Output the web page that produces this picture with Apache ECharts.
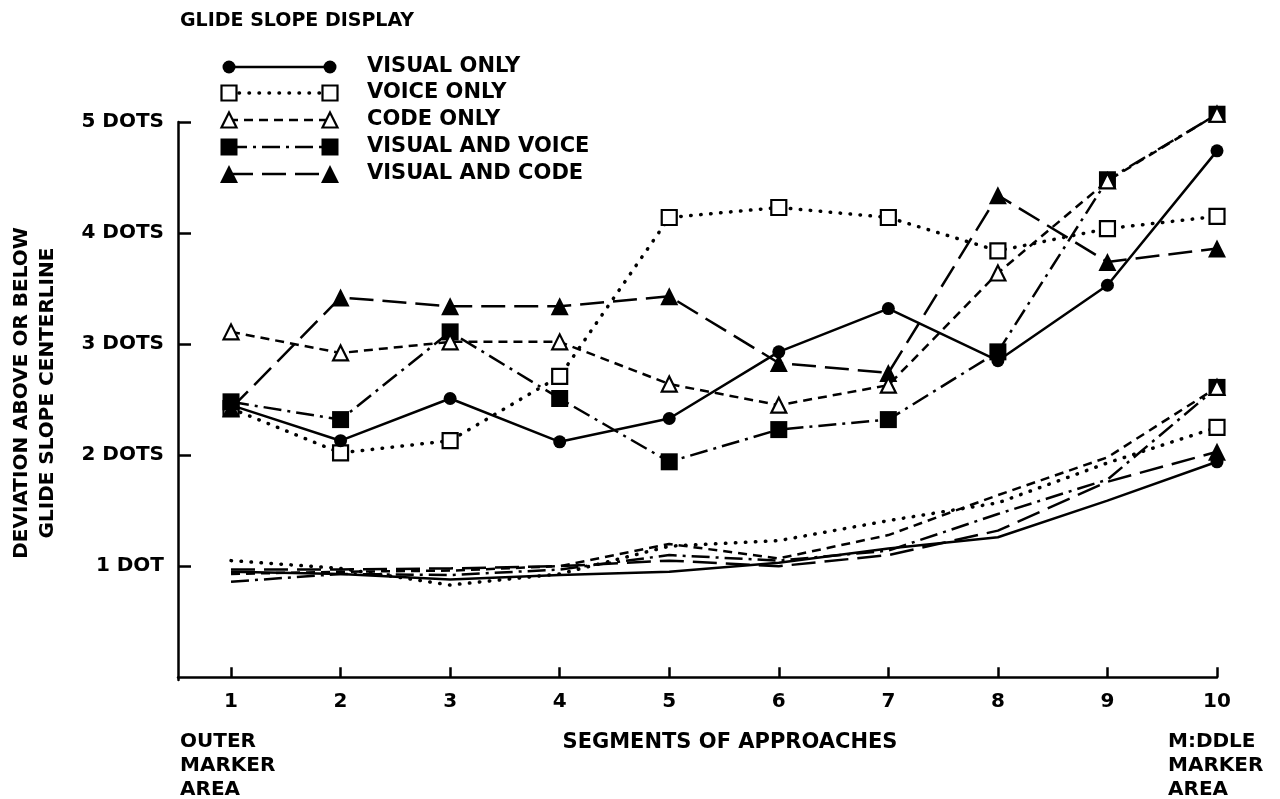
<!DOCTYPE html>
<html>
<head>
<meta charset="utf-8">
<script src="https://cdn.jsdelivr.net/npm/echarts@6/dist/echarts.min.js"></script>
<style>
  html, body { margin: 0; background: #fff; }
  #chart { width: 1280px; height: 799px; }
</style>
</head>
<body>
<div id="chart"></div>
<script>
// segments along the approach
const segments = [1, 2, 3, 4, 5, 6, 7, 8, 9, 10]
const yTicks = [1, 2, 3, 4, 5]
const yTickLabels = ['1 DOT', '2 DOTS', '3 DOTS', '4 DOTS', '5 DOTS']
const seriesNames = ['VISUAL ONLY', 'VOICE ONLY', 'CODE ONLY', 'VISUAL AND VOICE', 'VISUAL AND CODE']

// upper curves (with markers at every segment)
const visualOnly = [2.45, 2.13, 2.51, 2.12, 2.33, 2.93, 3.32, 2.85, 3.53, 4.74]
const voiceOnly = [2.42, 2.02, 2.13, 2.71, 4.14, 4.23, 4.14, 3.84, 4.04, 4.15]
const codeOnly = [3.11, 2.92, 3.02, 3.02, 2.64, 2.45, 2.63, 3.64, 4.47, 5.07]
const visualVoice = [2.48, 2.32, 3.11, 2.51, 1.94, 2.23, 2.32, 2.93, 4.48, 5.07]
const visualCode = [2.42, 3.42, 3.34, 3.34, 3.43, 2.83, 2.74, 4.34, 3.74, 3.86]

// lower curves (marker only at segment 10)
const visualOnlyLow = [0.95, 0.93, 0.88, 0.92, 0.95, 1.03, 1.16, 1.26, 1.59, 1.94]
const voiceOnlyLow = [1.05, 0.98, 0.83, 0.93, 1.18, 1.23, 1.41, 1.57, 1.93, 2.25]
const codeOnlyLow = [0.93, 0.95, 0.96, 1.0, 1.2, 1.07, 1.28, 1.64, 1.98, 2.61]
const visualVoiceLow = [0.86, 0.93, 0.92, 0.97, 1.1, 1.05, 1.14, 1.47, 1.78, 2.61]
const visualCodeLow = [0.97, 0.97, 0.98, 1.0, 1.05, 1.0, 1.1, 1.32, 1.76, 2.03]

const FONT = 'DejaVu Sans'

// line/marker look per condition
const looks = {
  'VISUAL ONLY': { symbol: 'circle', size: 13, filled: true, dash: 'solid', cap: 'butt', width: 2.5 },
  'VOICE ONLY': { symbol: 'rect', size: 15, filled: false, dash: [0.5, 9.5], cap: 'round', width: 3.5 },
  'CODE ONLY': { symbol: 'triangle', size: 15, filled: false, dash: [9, 6], cap: 'butt', width: 2.5 },
  'VISUAL AND VOICE': { symbol: 'rect', size: 17, filled: true, dash: [18, 6, 3, 6], cap: 'butt', width: 2.5 },
  'VISUAL AND CODE': { symbol: 'triangle', size: 18, filled: true, dash: [24, 9], cap: 'butt', width: 2.5 },
}

const pairs = (arr) => segments.map((s, i) => [s, arr[i]])

const makeSeries = (name, values, lower) => {
  const lk = looks[name]
  return {
    name: name,
    type: 'line',
    data: pairs(values),
    clip: false,
    symbol: lower ? (v, p) => (p.dataIndex === segments.length - 1 ? lk.symbol : 'none') : lk.symbol,
    symbolSize: lk.size,
    showAllSymbol: true,
    lineStyle: { color: '#000', width: lk.width, type: lk.dash, cap: lk.cap },
    itemStyle: lk.filled
      ? { color: '#000', borderWidth: 0 }
      : { color: '#fff', borderColor: '#000', borderWidth: 2.2 },
    emphasis: { disabled: true },
    z: 2,
  }
}

// drawing order: open triangles last so they sit on the filled squares
const series = [
  makeSeries('VOICE ONLY', voiceOnly, false),
  makeSeries('VISUAL AND VOICE', visualVoice, false),
  makeSeries('VISUAL AND CODE', visualCode, false),
  makeSeries('VISUAL ONLY', visualOnly, false),
  makeSeries('CODE ONLY', codeOnly, false),
  makeSeries('VOICE ONLY', voiceOnlyLow, true),
  makeSeries('VISUAL AND VOICE', visualVoiceLow, true),
  makeSeries('VISUAL AND CODE', visualCodeLow, true),
  makeSeries('VISUAL ONLY', visualOnlyLow, true),
  makeSeries('CODE ONLY', codeOnlyLow, true),
]

// hand-drawn style legend: marker - line - marker, then the label
const legendMarker = (lk, cx, cy) => {
  const style = lk.filled
    ? { fill: '#000', stroke: null }
    : { fill: '#fff', stroke: '#000', lineWidth: 2.2 }
  const h = lk.size / 2
  if (lk.symbol === 'circle') return { type: 'circle', shape: { cx, cy, r: h }, style }
  if (lk.symbol === 'rect') return { type: 'rect', shape: { x: cx - h, y: cy - h, width: lk.size, height: lk.size }, style }
  return { type: 'polygon', shape: { points: [[cx, cy - h], [cx + h, cy + h], [cx - h, cy + h]] }, style }
}

const legendRows = [67, 93, 120, 147, 174]
const legendGraphics = []
seriesNames.forEach((name, i) => {
  const lk = looks[name]
  const y = legendRows[i]
  legendGraphics.push({
    type: 'line',
    shape: { x1: 229, y1: y, x2: 330, y2: y },
    style: { stroke: '#000', lineWidth: lk.width, lineDash: lk.dash === 'solid' ? null : lk.dash, lineCap: lk.cap },
  })
  legendGraphics.push(legendMarker(lk, 229, y))
  legendGraphics.push(legendMarker(lk, 330, y))
  legendGraphics.push({
    type: 'text', x: 367, y: y,
    style: { text: name, font: 'bold 21px "' + FONT + '"', fill: '#000', verticalAlign: 'middle' },
  })
})

const chart = echarts.init(document.getElementById('chart'))

const option = {
  animation: false,
  backgroundColor: '#fff',
  grid: { left: 178, right: 63, top: 122, bottom: 119 },
  xAxis: {
    type: 'value',
    min: 0.516,
    max: 10,
    splitLine: { show: false },
    axisLine: { lineStyle: { color: '#000', width: 2.5 } },
    axisTick: { inside: true, length: 10, customValues: segments, lineStyle: { color: '#000', width: 2.5 } },
    axisLabel: {
      customValues: segments,
      color: '#000', fontFamily: FONT, fontWeight: 'bold', fontSize: 20, margin: 12,
    },
  },
  yAxis: {
    type: 'value',
    min: -0.025,
    max: 5,
    splitLine: { show: false },
    axisLine: { show: true, lineStyle: { color: '#000', width: 2.5 } },
    axisTick: { inside: true, length: 13, customValues: yTicks, lineStyle: { color: '#000', width: 2.5 } },
    axisLabel: {
      customValues: yTicks,
      formatter: (v) => yTickLabels[yTicks.indexOf(Math.round(v))] || '',
      color: '#000', fontFamily: FONT, fontWeight: 'bold', fontSize: 20, margin: 14,
    },
  },
  graphic: [
    {
      type: 'text', left: 180, top: 12,
      style: { text: 'GLIDE SLOPE DISPLAY', font: 'bold 19px "' + FONT + '"', fill: '#000' },
    },
    ...legendGraphics,
    {
      type: 'text', x: 35, y: 393, rotation: Math.PI / 2,
      style: {
        text: 'DEVIATION ABOVE OR BELOW\nGLIDE SLOPE CENTERLINE',
        font: 'bold 20px "' + FONT + '"', fill: '#000',
        align: 'center', verticalAlign: 'middle', lineHeight: 26,
      },
    },
    {
      type: 'text', x: 180, y: 730,
      style: { text: 'OUTER\nMARKER\nAREA', font: 'bold 20px "' + FONT + '"', fill: '#000', lineHeight: 24 },
    },
    {
      type: 'text', x: 730, y: 743,
      style: { text: 'SEGMENTS OF APPROACHES', font: 'bold 21px "' + FONT + '"', fill: '#000', align: 'center', verticalAlign: 'middle' },
    },
    {
      type: 'text', x: 1168, y: 730,
      style: { text: 'M:DDLE\nMARKER\nAREA', font: 'bold 20px "' + FONT + '"', fill: '#000', lineHeight: 24 },
    },
  ],
  series: series,
}

chart.setOption(option)
</script>
</body>
</html>
